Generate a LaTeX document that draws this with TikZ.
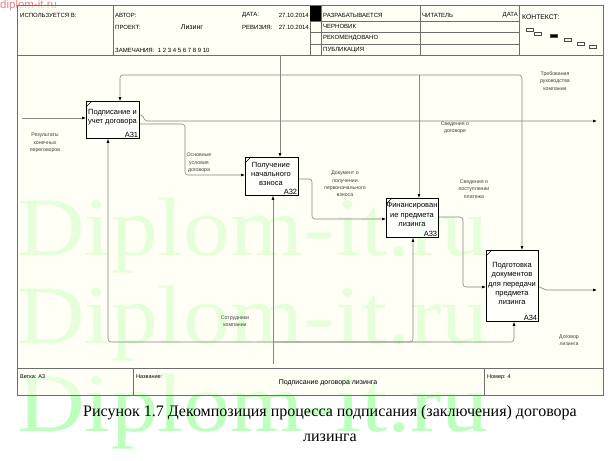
\documentclass[tikz,border=0pt]{standalone}
\usepackage{fontspec}
\setmainfont{Liberation Sans}
\newfontfamily\seriffont{Liberation Serif}
\usetikzlibrary{arrows.meta}
\definecolor{cream}{RGB}{255,255,238}
\definecolor{linegray}{RGB}{135,135,135}
\definecolor{framegray}{RGB}{110,110,110}
\definecolor{wmgreen}{RGB}{190,255,190}
\definecolor{wmred}{RGB}{230,130,130}
\tikzset{
 fr/.style={draw=framegray, line width=0.6pt},
 box/.style={draw=black, fill=white, fill opacity=0.75, line width=0.8pt, inner sep=0pt, anchor=north west},
 btext/.style={font=\fontsize{7.5}{9.3}\selectfont, align=center, inner sep=0pt},
 bnum/.style={font=\fontsize{7.5}{9}\selectfont, inner sep=1.5pt, anchor=south east},
 conn/.style={draw=linegray, line width=0.6pt, rounded corners=3pt},
 arr/.style={conn, -{Latex[length=4pt,width=3pt,color=black]}},
 lbl/.style={font=\fontsize{5.2}{7.3}\selectfont, align=center, text=black!75, inner sep=0pt},
 hd/.style={font=\fontsize{6}{7}\selectfont, anchor=west, inner sep=0pt},
 ft/.style={font=\fontsize{5.5}{7}\selectfont, anchor=west, inner sep=0pt},
 wm/.style={font=\seriffont\fontsize{83}{83}\selectfont, text=wmgreen, anchor=base west, inner sep=0pt, xscale=1.13, transform shape},
 ctx/.style={draw=black!70, line width=0.4pt, fill=white},
}
\begin{document}
\begin{tikzpicture}[x=1pt,y=-1pt]
\useasboundingbox (0,0) rectangle (615,460);
% watermarks (behind)
\node[wm] (w1) at (17,255) {Diplom-it.ru};
\node[wm] (w2) at (17,343) {Diplom-it.ru};
\node[wm] (w3) at (17,431) {Diplom-it.ru};
\node[font=\fontsize{11.5}{12}\selectfont, text=wmred, anchor=north west, inner sep=0pt] (w0) at (0,0) {diplom-it.ru};
% frame
\fill[cream, opacity=0.6] (17,6) rectangle (603,395);
\draw[fr, line width=1pt] (17,6) rectangle (603,395);
\draw[fr] (17,55) -- (603,55);
\draw[fr] (17,368) -- (603,368);
% header verticals
\draw[fr] (113,6) -- (113,55);
\draw[fr] (310,6) -- (310,55);
\draw[fr] (321,6) -- (321,55);
\draw[fr] (420,6) -- (420,55);
\draw[fr] (519,6) -- (519,55);
\draw[fr] (310,21) -- (519,21);
\draw[fr] (310,32) -- (519,32);
\draw[fr] (310,44) -- (519,44);
\fill[black] (310,6) rectangle (321,21);
% header text
\node[hd] (h1) at (20,15) {ИСПОЛЬЗУЕТСЯ В:};
\node[hd] (h2) at (115,15) {АВТОР:};
\node[hd] (h3) at (115,27) {ПРОЕКТ:};
\node[font=\fontsize{7}{8}\selectfont, inner sep=0pt] (h4) at (192,27) {Лизинг};
\node[hd] (h5) at (115,50) {ЗАМЕЧАНИЯ:\ \ 1 2 3 4 5 6 7 8 9 10};
\node[hd] (h6) at (242,15) {ДАТА:};
\node[hd, anchor=east] (h7) at (309,15) {27.10.2014};
\node[hd] (h8) at (242,27) {РЕВИЗИЯ:};
\node[hd, anchor=east] (h9) at (309,27) {27.10.2014};
\node[hd] (h10) at (323,15) {РАЗРАБАТЫВАЕТСЯ};
\node[hd] (h11) at (323,26.5) {ЧЕРНОВИК};
\node[hd] (h12) at (323,38) {РЕКОМЕНДОВАНО};
\node[hd] (h13) at (323,50) {ПУБЛИКАЦИЯ};
\node[hd] (h14) at (422,15) {ЧИТАТЕЛЬ};
\node[hd, anchor=east] (h15) at (518,15) {ДАТА};
\node[hd, font=\fontsize{6.8}{8}\selectfont] (h16) at (522,17) {КОНТЕКСТ:};
% context icons
\draw[ctx] (526,28) rectangle (533,31);
\draw[ctx] (534,32) rectangle (541,35);
\draw[ctx, fill=black] (550,34) rectangle (557,37);
\draw[ctx] (564,38) rectangle (571,41);
\draw[ctx] (577,42) rectangle (584,45);
\draw[ctx] (589,45) rectangle (596,48);
% footer
\draw[fr] (133,368) -- (133,395);
\draw[fr] (484,368) -- (484,395);
\node[ft] (f1) at (20,377) {Ветка: А3};
\node[ft] (f2) at (136,377) {Название:};
\node[font=\fontsize{7}{8}\selectfont, inner sep=0pt] (f3) at (328,383) {Подписание договора лизинга};
\node[ft] (f4) at (487,377) {Номер: 4};
% boxes
\node[box, minimum width=53pt, minimum height=37pt] (a31) at (86,101) {};
\node[box, minimum width=53pt, minimum height=38pt] (a32) at (245,157) {};
\node[box, minimum width=52pt, minimum height=39pt] (a33) at (386,198) {};
\node[box, minimum width=52pt, minimum height=71pt] (a34) at (486,250) {};
\foreach \b in {a31,a32,a33,a34}{
  \draw[line width=0.5pt] (\b.north west) ++(0,6) -- ++(6,-6);
}
\node[btext] (t31) at (112.5,117) {Подписание и\\учет договора};
\node[bnum] (n31) at (a31.south east) {А31};
\node[btext] (t32) at (271,174) {Получение\\начального\\взноса};
\node[bnum] (n32) at (a32.south east) {А32};
\node[btext] (t33) at (412,214.5) {Финансирован\\ие предмета\\лизинга};
\node[bnum] (n33) at (a33.south east) {А33};
\node[btext] (t34) at (512,283.5) {Подготовка\\документов\\для передачи\\предмета\\лизинга};
\node[bnum] (n34) at (a34.south east) {А34};
% inputs / outputs
\coordinate (in31) at (22,118);
\draw[arr] (in31) -- (in31 -| a31.west);
\coordinate (o31) at (597,121);
\draw[arr, rounded corners=2pt] (a31.east |- 0,115) -- ++(3,0) -- ++(2,6) -- (o31);
\draw[arr] (a31.east |- 0,124) -- (185,124) -- (185,175) -- (a32.west |- 0,175);
\draw[arr] (a32.east |- 0,179) -- (312,179) -- (312,219) -- (a33.west |- 0,219);
\draw[arr] (a33.east |- 0,217) -- (463,217) -- (463,287) -- (a34.west |- 0,287);
\coordinate (o34) at (597,290);
\draw[arr, rounded corners=2pt] (a34.east |- 0,287) -- ++(3,0) -- ++(2,3) -- (o34);
% controls
\coordinate (ctl) at (280,55);
\coordinate (cj) at (280,75);
\coordinate (c31) at (120,75);
\coordinate (c33) at (419,75);
\coordinate (c34) at (522,75);
\draw[arr] (ctl) -- (ctl |- a32.north);
\draw[arr] (cj) -- (c31) -- (c31 |- a31.north);
\draw[arr] (cj) -- (c34) -- (c34 |- a34.north);
\draw[arr] (c33) -- (c33 |- a33.north);
% mechanisms
\coordinate (mec) at (273,364);
\coordinate (mj) at (273,342);
\coordinate (m31) at (108,342);
\coordinate (m33) at (413,342);
\coordinate (m34) at (514,342);
\draw[arr] (mec) -- (mec |- a32.south);
\draw[arr] (mj) -- (m31) -- (m31 |- a31.south);
\draw[arr] (mj) -- (m33) -- (m33 |- a33.south);
\draw[arr] (mj) -- (m34) -- (m34 |- a34.south);
% labels
\node[lbl] (l1) at (45,143) {Результаты\\конечных\\переговоров};
\node[lbl] (l2) at (455,127.5) {Сведения о\\договоре};
\node[lbl] (l3) at (199,163) {Основные\\условия\\договора};
\node[lbl] (l4) at (345,184) {Документ о\\получении\\первоначального\\взноса};
\node[lbl] (l5) at (474,189) {Сведения о\\поступлении\\платежа};
\node[lbl] (l6) at (555,81) {Требования\\руководства\\компании};
\node[lbl] (l7) at (235,321) {Сотрудники\\компании};
\node[lbl] (l8) at (569,340) {Договор\\лизинга};
% caption
\node[font=\seriffont\fontsize{16}{18}\selectfont, inner sep=0pt] (cap1) at (330,413) {Рисунок 1.7 Декомпозиция процесса подписания (заключения) договора};
\node[font=\seriffont\fontsize{16}{18}\selectfont, inner sep=0pt] (cap2) at (330,438) {лизинга};
\end{tikzpicture}
\end{document}
